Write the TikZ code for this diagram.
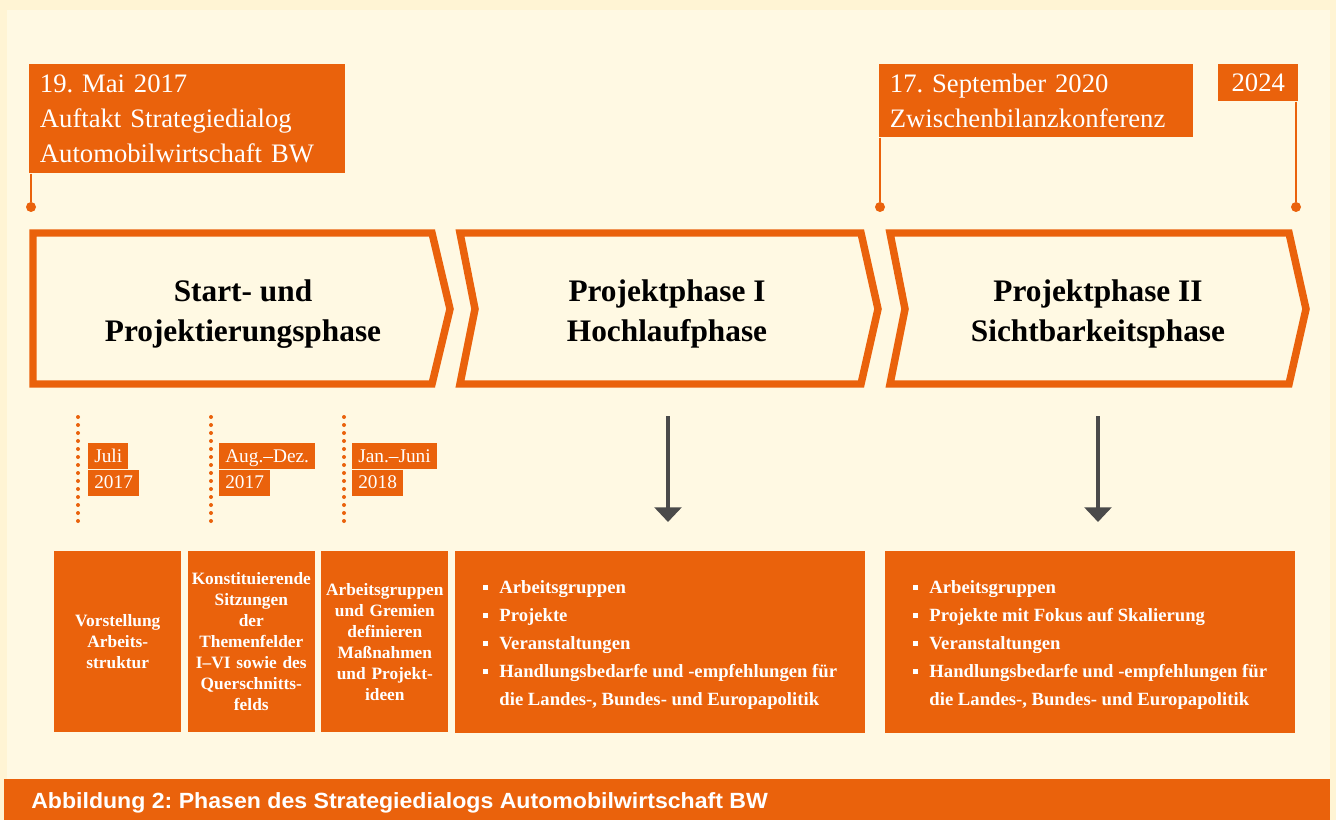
\documentclass[tikz,border=0pt]{standalone}
\usepackage{fontspec}
\setmainfont{Liberation Serif}
\setsansfont{Liberation Sans}
\newfontfamily\captionfont[FakeStretch=1.05]{Liberation Sans}
\usetikzlibrary{positioning,arrows.meta}
\definecolor{bwOrange}{RGB}{234,98,12}
\definecolor{bwCream}{RGB}{255,249,227}
\definecolor{bwPaper}{RGB}{255,244,212}
\definecolor{bwGray}{RGB}{74,74,74}
\newcommand{\sqitem}{\makebox[12pt][l]{\rule[3pt]{3.5pt}{3.5pt}}}
\frenchspacing

\begin{document}
\begin{tikzpicture}[x=0.75pt, y=-0.75pt,
    milestone/.style={fill=bwOrange, text=white, anchor=north west, inner xsep=8pt, inner ysep=0pt,
        align=left, font=\fontsize{20}{26.25}\selectfont},
    datebox/.style={fill=bwOrange, text=white, anchor=north west, inner xsep=4.5pt, inner ysep=0pt,
        text height=14.25pt, text depth=5.25pt, font=\fontsize{14.5}{16}\selectfont},
    phase/.style={draw=bwOrange, line width=5.6pt, fill=bwCream, line join=miter},
    phasetitle/.style={align=center, font=\bfseries\fontsize{23.5}{30}\selectfont},
    stepbox/.style={fill=bwOrange, text=white, minimum width=95.25pt, minimum height=135.75pt,
        text width=93pt, align=center, inner sep=0pt, font=\bfseries\fontsize{13}{15.75}\selectfont},
    listbox/.style={fill=bwOrange, anchor=north west, minimum width=307.5pt,
        minimum height=136.5pt, inner sep=0pt},
    listtext/.style={text=white, align=left, inner sep=0pt, yshift=-2.25pt,
        font=\bfseries\fontsize{14}{21}\selectfont},
    pinline/.style={bwOrange, line width=2pt},
    pindot/.style={circle, fill=bwOrange, inner sep=0pt, minimum size=7.5pt},
    monthline/.style={bwOrange, line width=3pt, line cap=round, dash pattern=on 0pt off 6pt},
    downarrow/.style={bwGray, line width=3pt, -{Triangle[width=20pt,length=11pt]}}
]
\useasboundingbox (0,0) rectangle (1336,820);
% Hintergrund
\fill[bwPaper] (0,0) rectangle (1336,820);
\fill[bwCream] (7,10) rectangle (1330,820);

% Meilensteine oben
\node[milestone, text width=221pt, minimum height=81.75pt] (kickoff) at (29,64)
    {19. Mai 2017\\Auftakt Strategiedialog\\Automobilwirtschaft BW};
\node[milestone, text width=219pt, minimum height=54.75pt] (midterm) at (879,64)
    {17. September 2020\\Zwischenbilanzkonferenz};
\node[milestone, align=center, minimum width=60pt, minimum height=27.75pt] (final) at (1218,64) {2024};
\node[pindot] (kickoffdot) at (31,207) {};
\node[pindot] (midtermdot) at (880,207) {};
\node[pindot] (finaldot) at (1296,207) {};
\draw[pinline] (kickoffdot |- kickoff.south) -- (kickoffdot);
\draw[pinline] (midtermdot |- midterm.south) -- (midtermdot);
\draw[pinline] (finaldot |- final.south) -- (finaldot);

% Phasen
\draw[phase] (33,233) -- (432,233) -- (450,309) -- (432,384) -- (33,384) -- cycle;
\draw[phase] (460,233) -- (861,233) -- (878,309) -- (861,384) -- (460,384) -- (475,309) -- cycle;
\draw[phase] (890,233) -- (1289,233) -- (1306,309) -- (1289,384) -- (890,384) -- (905,309) -- cycle;
\node[phasetitle] (phaseA) at (243,314) {Start- und\\Projektierungsphase};
\node[phasetitle] (phaseB) at (667,314) {Projektphase I\\Hochlaufphase};
\node[phasetitle] (phaseC) at (1098,314) {Projektphase II\\Sichtbarkeitsphase};

% Monate der Startphase
\draw[monthline] (78,417) -- (78,522);
\draw[monthline] (211,417) -- (211,522);
\draw[monthline] (344,417) -- (344,522);
\node[datebox] (julm) at (88,443) {Juli};
\node[datebox] (july) at (julm.south west) {2017};
\node[datebox] (augm) at (219,443) {Aug.–Dez.};
\node[datebox] (augy) at (augm.south west) {2017};
\node[datebox] (janm) at (352,443) {Jan.–Juni};
\node[datebox] (jany) at (janm.south west) {2018};

% Schritte der Startphase
\node[stepbox, anchor=north west] (intro) at (54,551) {Vorstellung\\Arbeits-\\struktur};
\node[stepbox, right=4.5pt of intro] (sessions)
    {Konstituierende\\Sitzungen\\der\\Themenfelder\\I–VI sowie des\\Querschnitts-\\felds};
\node[stepbox, right=4.5pt of sessions] (measures)
    {Arbeitsgruppen\\und Gremien\\definieren\\Maßnahmen\\und Projekt-\\ideen};

% Inhalte der Projektphasen
\node[listbox] (hochlauf) at (455,551) {};
\node[listtext] (hochlauftext) at (hochlauf.center)
    {\sqitem Arbeitsgruppen\\\sqitem Projekte\\\sqitem Veranstaltungen\\
     \sqitem Handlungsbedarfe und -empfehlungen für\\\hspace*{12pt}die Landes-, Bundes- und Europapolitik};
\node[listbox] (sicht) at (885,551) {};
\node[listtext] (sichttext) at (sicht.center)
    {\sqitem Arbeitsgruppen\\\sqitem Projekte mit Fokus auf Skalierung\\\sqitem Veranstaltungen\\
     \sqitem Handlungsbedarfe und -empfehlungen für\\\hspace*{12pt}die Landes-, Bundes- und Europapolitik};
\coordinate (arrowBtop) at (668,416);
\coordinate (arrowBend) at (668,522);
\coordinate (arrowCtop) at (1098,416);
\coordinate (arrowCend) at (1098,522);
\draw[downarrow] (arrowBtop) -- (arrowBend);
\draw[downarrow] (arrowCtop) -- (arrowCend);

% Bildunterschrift
\fill[bwOrange] (4,779) rectangle (1330,820);
\node[anchor=base west, inner sep=0pt, text=white, font=\captionfont\bfseries\fontsize{16.5}{18}\selectfont] (caption) at (31,808)
    {Abbildung 2: Phasen des Strategiedialogs Automobilwirtschaft BW};
\end{tikzpicture}
\end{document}
